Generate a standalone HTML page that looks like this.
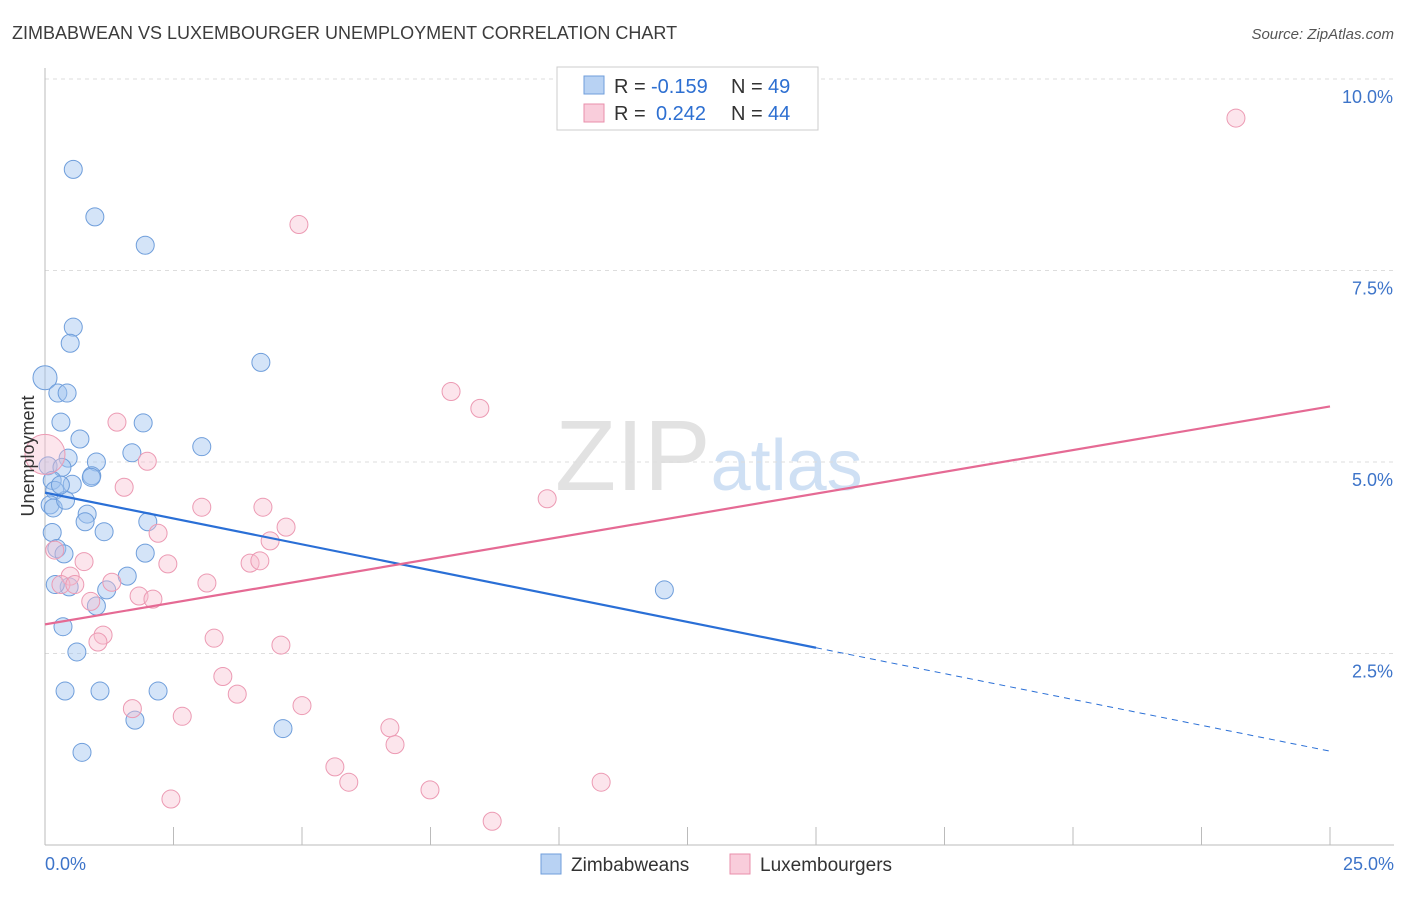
<!DOCTYPE html>
<html><head><meta charset="utf-8"><style>
body{margin:0;background:#fff;font-family:"Liberation Sans",sans-serif;}
svg text{font-family:"Liberation Sans",sans-serif;}
</style></head><body>
<svg id="chart" width="1406" height="892" viewBox="0 0 1406 892" xmlns="http://www.w3.org/2000/svg">
<text x="12" y="39" font-size="18" fill="#3c3c3c">ZIMBABWEAN VS LUXEMBOURGER UNEMPLOYMENT CORRELATION CHART</text>
<text x="1394" y="39" font-size="15" fill="#555" font-style="italic" text-anchor="end">Source: ZipAtlas.com</text>
<text x="555" y="490" font-size="100" font-family="Liberation Serif" fill="#e2e2e2">ZIP<tspan font-family="Liberation Sans" fill="#cfe0f4" font-size="72">atlas</tspan></text>
<g id="grid"></g>
<g id="axes"></g>
<g id="marks"></g>
<text transform="translate(34,456) rotate(-90)" font-size="18" fill="#333" text-anchor="middle">Unemployment</text>
<g>
<rect x="557" y="67" width="261" height="63" fill="#fff" stroke="#ccc"/>
<rect x="584" y="76" width="20" height="18" fill="#b8d2f3" stroke="#6f9edb"/>
<text x="614" y="93" font-size="20" fill="#333">R =</text>
<text x="651" y="93" font-size="20" fill="#2d6fd1">-0.159</text>
<text x="731" y="93" font-size="20" fill="#333">N =</text>
<text x="768" y="93" font-size="20" fill="#2d6fd1">49</text>
<rect x="584" y="104" width="20" height="18" fill="#f9cddb" stroke="#e98fab"/>
<text x="614" y="120" font-size="20" fill="#333">R =</text>
<text x="656" y="120" font-size="20" fill="#2d6fd1">0.242</text>
<text x="731" y="120" font-size="20" fill="#333">N =</text>
<text x="768" y="120" font-size="20" fill="#2d6fd1">44</text>
</g>
<g>
<rect x="541" y="854" width="20" height="20" fill="#b8d2f3" stroke="#6f9edb"/>
<text x="571" y="871" font-size="19" fill="#333">Zimbabweans</text>
<rect x="730" y="854" width="20" height="20" fill="#f9cddb" stroke="#e98fab"/>
<text x="760" y="871" font-size="19" fill="#333">Luxembourgers</text>
</g>
</svg>
<script>
const yTicks=[2.5,5,7.5,10];
const yTickLabels=["2.5%","5.0%","7.5%","10.0%"];
const xTicks=[0,2.5,5,7.5,10,12.5,15,17.5,20,22.5,25];
const blueX=[0.55,0.97,1.95,0.55,0.49,4.2,0,0.25,0.43,0.31,1.91,0.68,3.05,1.69,0.45,1.0,0.06,0.33,0.91,0.9,0.14,0.53,0.19,0.1,0.16,0.82,0.78,2.0,0.14,1.15,0.23,0.37,1.95,1.6,1.2,0.47,12.05,1.0,0.35,0.62,0.39,1.07,2.2,1.75,4.63,0.72,0.4,0.3,0.2];
const blueY=[8.82,8.2,7.83,6.76,6.55,6.3,6.1,5.9,5.9,5.52,5.51,5.3,5.2,5.12,5.05,5.0,4.95,4.93,4.82,4.8,4.76,4.71,4.63,4.44,4.4,4.32,4.22,4.22,4.08,4.09,3.87,3.8,3.81,3.51,3.33,3.37,3.33,3.12,2.85,2.52,2.01,2.01,2.01,1.63,1.52,1.21,4.5,4.7,3.4];
const pinkX=[23.17,4.94,7.9,8.46,1.4,0,1.99,1.54,9.77,3.05,4.24,4.69,2.2,4.38,0.19,0.76,2.39,3.99,4.18,1.3,3.15,0.49,0.31,0.58,1.83,2.1,0.89,1.13,1.03,3.29,4.59,3.46,3.74,1.7,5.0,2.67,6.71,6.81,5.64,5.91,10.82,7.49,2.45,8.7];
const pinkY=[9.49,8.1,5.92,5.7,5.52,5.1,5.01,4.67,4.52,4.41,4.41,4.15,4.07,3.97,3.85,3.7,3.67,3.68,3.71,3.43,3.42,3.51,3.4,3.4,3.25,3.21,3.18,2.74,2.65,2.7,2.61,2.2,1.97,1.78,1.82,1.68,1.53,1.31,1.02,0.82,0.82,0.72,0.6,0.31];
const blueFit=[4.6,-0.135];
const pinkFit=[2.88,0.1138];
const sx=v=>45+v*51.4, sy=v=>845-v*76.6;
const ns="http://www.w3.org/2000/svg";
function mk(tag,attrs,parent){const e=document.createElementNS(ns,tag);for(const k in attrs)e.setAttribute(k,attrs[k]);parent.appendChild(e);return e;}
const grid=document.getElementById('grid'),axes=document.getElementById('axes'),marks=document.getElementById('marks');
yTicks.forEach((t,i)=>{
 const l=mk('line',{x1:45,x2:1394,y1:sy(t),y2:sy(t),stroke:'#ddd','stroke-dasharray':'4,4'},grid);
 
 
 const tx=mk('text',{x:1393,y:sy(t)+24,'font-size':18,fill:'#3d74c9','text-anchor':'end'},axes);
 tx.textContent=yTickLabels[i];
 
 
});
const xa=mk('line',{x1:45,x2:1394,y1:845,y2:845,stroke:'#bbb'},axes);


const ya=mk('line',{x1:45,x2:45,y1:68,y2:845,stroke:'#bbb'},axes);


xTicks.forEach(t=>{
 const l=mk('line',{x1:sx(t),x2:sx(t),y1:827,y2:845,stroke:'#bbb'},axes);
 
 
});
const x0=mk('text',{x:45,y:870,'font-size':18,fill:'#3d74c9'},axes);x0.textContent='0.0%';


const x1=mk('text',{x:1394,y:870,'font-size':18,fill:'#3d74c9','text-anchor':'end'},axes);x1.textContent='25.0%';


blueX.forEach((x,i)=>{
 const c=mk('circle',{cx:sx(x),cy:sy(blueY[i]),r:(x===0?12:9),fill:'rgba(160,196,240,0.45)',stroke:'#6f9edb','stroke-width':1},marks);
 
 
});
pinkX.forEach((x,i)=>{
 const c=mk('circle',{cx:sx(x),cy:sy(pinkY[i]),r:(x===0?20:9),fill:'rgba(248,190,208,0.4)',stroke:'#ec9ab3','stroke-width':1},marks);
 
 
});
const bl=mk('line',{x1:sx(0),y1:sy(blueFit[0]),x2:sx(15),y2:sy(blueFit[0]+blueFit[1]*15),stroke:'#2a6fd6','stroke-width':2.2},marks);


const bd=mk('line',{x1:sx(15),y1:sy(blueFit[0]+blueFit[1]*15),x2:sx(25),y2:sy(blueFit[0]+blueFit[1]*25),stroke:'#2a6fd6','stroke-width':1,'stroke-dasharray':'6,5'},marks);


const pl=mk('line',{x1:sx(0),y1:sy(pinkFit[0]),x2:sx(25),y2:sy(pinkFit[0]+pinkFit[1]*25),stroke:'#e56a94','stroke-width':2.2},marks);


</script>
</body></html>
